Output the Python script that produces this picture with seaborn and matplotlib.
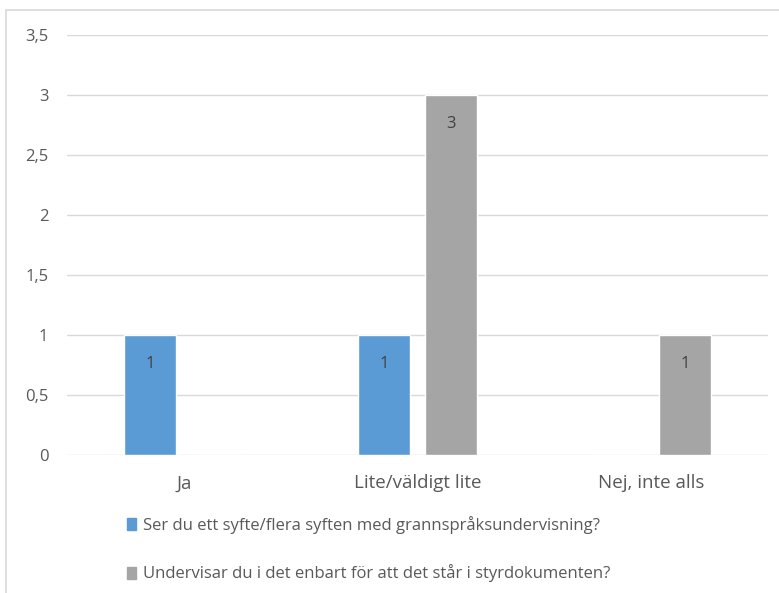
import matplotlib
matplotlib.use("Agg")
import matplotlib.pyplot as plt
import matplotlib.patches as mpatches
import seaborn as sns
import pandas as pd

categories = ["Ja", "Lite/väldigt lite", "Nej, inte alls"]
series_names = [
    "Ser du ett syfte/flera syften med grannspråksundervisning?",
    "Undervisar du i det enbart för att det står i styrdokumenten?",
]
series_1 = [1, 1, 0]
series_2 = [0, 3, 1]
y_ticks = [0, 0.5, 1, 1.5, 2, 2.5, 3, 3.5]
y_tick_labels = ["0", "0,5", "1", "1,5", "2", "2,5", "3", "3,5"]

colors = ["#5b9bd5", "#a5a5a5"]
text_color = "#595959"
grid_color = "#d9d9d9"

df = pd.DataFrame({
    "Kategori": categories * 2,
    "Fråga": [series_names[0]] * 3 + [series_names[1]] * 3,
    "Antal": series_1 + series_2,
})

sns.set_theme(style="white")
plt.rcParams["font.family"] = ["Open Sans", "DejaVu Sans"]

W, H = 779, 593
fig = plt.figure(figsize=(W / 100, H / 100), dpi=100)
ax = fig.add_axes([67 / W, (H - 455) / H, (768 - 67) / W, (455 - 35) / H])

sns.barplot(data=df, x="Kategori", y="Antal", hue="Fråga", order=categories,
            hue_order=series_names, palette=colors, width=0.578, gap=0.23,
            saturation=1, ax=ax, legend=False)

# value labels just below the top of each non-zero bar
for cont in ax.containers:
    labels = [f"{v:g}" if v else "" for v in cont.datavalues]
    ax.bar_label(cont, labels=labels, label_type="edge", padding=-27,
                 color="#404040", fontsize=12)

ax.set_ylim(0, 3.5)
ax.set_xlim(-0.5, 2.5)
ax.set_yticks(y_ticks)
ax.set_yticklabels(y_tick_labels)
ax.yaxis.grid(True, color=grid_color, linewidth=1)
ax.set_axisbelow(True)
for s in ax.spines.values():
    s.set_visible(False)
ax.tick_params(axis="y", length=0, pad=13.5, labelsize=12, labelcolor=text_color)
ax.tick_params(axis="x", length=0, pad=14, labelsize=13.5, labelcolor=text_color)
ax.set_xlabel("")
ax.set_ylabel("")

handles = [mpatches.Patch(color=c) for c in colors]
fig.legend(handles, series_names, loc="upper left",
           bbox_to_anchor=(120 / W, 1 - 509 / H), frameon=False,
           fontsize=12, labelcolor=text_color, handlelength=0.55,
           handleheight=0.75, handletextpad=0.4, labelspacing=1.85,
           borderaxespad=0)

# outer chart frame
fig.add_artist(mpatches.Rectangle((6 / W, -0.1), 1.1, 1 - 10 / H + 0.1,
                                  transform=fig.transFigure, fill=False,
                                  edgecolor=grid_color, linewidth=1.2,
                                  clip_on=False))

fig.savefig("out.png", dpi=100, facecolor="white")
